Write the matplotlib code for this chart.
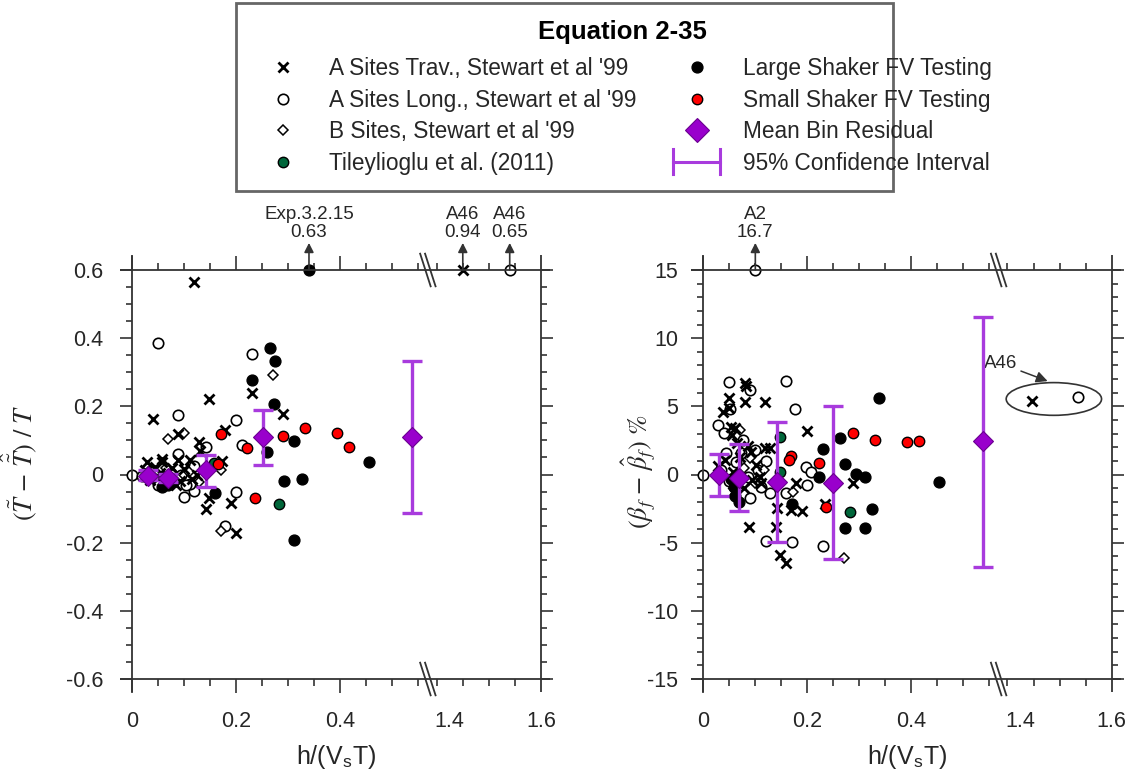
import numpy as np
import matplotlib
matplotlib.use("Agg")
import matplotlib.pyplot as plt
from matplotlib.lines import Line2D
from matplotlib.patches import Ellipse, Rectangle
from matplotlib.legend_handler import HandlerBase
from matplotlib.ticker import FixedLocator, FixedFormatter

plt.rcParams['font.family'] = ['Liberation Sans', 'DejaVu Sans']
plt.rcParams['mathtext.fontset'] = 'stix'

# ---------------- data: left panel, period residual (T~ - T^~)/T ----------------
L_trav_x = [0.119, 0.149, 0.231, 0.291, 0.040, 0.179, 0.089, 0.130, 0.131, 0.029, 0.058, 0.059,
            0.089, 0.112, 0.173, 0.149, 0.190, 0.142, 0.200, 1.450,
            0.025, 0.045, 0.055, 0.068, 0.078, 0.092, 0.100, 0.115, 0.125, 0.035, 0.085]
L_trav_y = [0.564, 0.222, 0.239, 0.178, 0.164, 0.131, 0.120, 0.095, 0.070, 0.036, 0.046, 0.036,
            0.043, 0.043, 0.039, -0.069, -0.084, -0.101, -0.173, 0.94,
            0.012, 0.022, 0.005, -0.008, 0.018, -0.020, 0.015, -0.012, 0.000, -0.015, -0.032]
L_long_x = [0.000, 0.051, 0.231, 0.089, 0.200, 0.211, 0.142, 0.089, 0.200, 0.101, 0.119, 0.112,
            0.179, 1.540, 0.020, 0.040, 0.060, 0.075, 0.095, 0.105, 0.120, 0.050]
L_long_y = [0.000, 0.386, 0.353, 0.176, 0.161, 0.088, 0.082, 0.059, -0.052, -0.065, -0.047, -0.027,
            -0.150, 0.65, -0.005, 0.008, -0.020, 0.005, 0.000, -0.030, 0.025, -0.030]
L_B_x = [0.271, 0.070, 0.101, 0.171, 0.171, 0.065, 0.088, 0.110, 0.130, 0.045]
L_B_y = [0.293, 0.105, 0.123, 0.014, -0.165, 0.020, -0.012, 0.008, -0.022, -0.010]
L_tiley_x = [0.283, 0.158]
L_tiley_y = [-0.086, 0.035]
L_large_x = [0.340, 0.266, 0.275, 0.231, 0.273, 0.312, 0.259, 0.293, 0.326, 0.312, 0.455,
             0.058, 0.070, 0.160]
L_large_y = [0.63, 0.370, 0.332, 0.278, 0.206, 0.098, 0.066, -0.018, -0.013, -0.191, 0.038,
             -0.037, -0.030, -0.055]
L_small_x = [0.171, 0.291, 0.332, 0.393, 0.222, 0.166, 0.236, 0.417]
L_small_y = [0.120, 0.112, 0.136, 0.123, 0.077, 0.031, -0.069, 0.080]
L_off_scale = [(0.340, 0.63, 'Exp.3.2.15'), (1.450, 0.94, 'A46'), (1.540, 0.65, 'A46')]

# ---------------- data: right panel, damping residual (%) ----------------
R_trav_x = [0.081, 0.084, 0.051, 0.081, 0.119, 0.039, 0.051, 0.055, 0.062, 0.057, 0.200, 0.087,
            0.093, 0.119, 0.129, 0.288, 0.180, 0.111, 0.234, 0.143, 0.170, 0.191, 0.089, 0.141,
            0.148, 0.160, 1.447,
            0.030, 0.042, 0.058, 0.066, 0.072, 0.095, 0.102, 0.058, 0.080, 0.110, 0.065]
R_trav_y = [6.74, 6.50, 5.59, 5.34, 5.30, 4.60, 4.86, 3.50, 3.39, 2.90, 3.19, 2.09,
            1.67, 1.92, 1.92, -0.60, -0.65, -0.65, -2.20, -2.48, -2.60, -2.66, -3.87, -3.87,
            -5.90, -6.47, 5.39,
            0.6, 1.1, 0.2, -0.6, 1.3, -0.4, 0.7, -1.3, -1.0, -0.2, 2.3]
R_long_x = [0.000, 0.051, 0.090, 0.160, 0.052, 0.178, 0.030, 0.040, 0.100, 0.073, 0.121, 0.199,
            0.208, 0.200, 0.160, 0.130, 0.090, 0.121, 0.172, 0.230, 1.536, 0.101,
            0.036, 0.050, 0.064, 0.086, 0.106, 0.112, 0.045, 0.078]
R_long_y = [0.00, 6.79, 6.20, 6.86, 4.80, 4.78, 3.63, 3.07, 1.80, 1.55, 1.01, 0.53,
            0.21, -0.77, -1.38, -1.33, -1.75, -4.86, -4.93, -5.25, 5.66, 16.7,
            0.3, -0.5, 0.9, -0.2, 0.3, -0.9, 1.6, 2.5]
R_B_x = [0.071, 0.173, 0.272, 0.080, 0.100, 0.118, 0.090]
R_B_y = [3.26, -1.26, -6.15, 0.5, -0.6, 0.3, 1.2]
R_tiley_x = [0.149, 0.283, 0.148]
R_tiley_y = [2.73, -2.73, 0.20]
R_large_x = [0.339, 0.264, 0.230, 0.274, 0.294, 0.311, 0.223, 0.172, 0.325, 0.274, 0.311, 0.453,
             0.060, 0.062, 0.070, 0.055]
R_large_y = [5.59, 2.65, 1.87, 0.77, 0.04, -0.20, -0.20, -2.16, -2.56, -3.95, -3.95, -0.57,
             -0.9, -1.6, -2.0, -0.3]
R_small_x = [0.289, 0.331, 0.170, 0.165, 0.223, 0.236, 0.393, 0.415]
R_small_y = [3.02, 2.53, 1.36, 1.06, 0.82, -2.36, 2.36, 2.46]
R_off_scale = [(0.101, 16.7, 'A2')]

# ---------------- mean bin residuals and 95% CI ----------------
bin_x = [0.032, 0.070, 0.142, 0.251, 0.538]
L_bin_mean = [-0.003, -0.010, 0.012, 0.110, 0.110]
L_bin_lo = [-0.016, -0.023, -0.037, 0.029, -0.114]
L_bin_hi = [0.012, 0.002, 0.056, 0.188, 0.333]
R_bin_mean = [-0.04, -0.28, -0.57, -0.65, 2.46]
R_bin_lo = [-1.55, -2.65, -4.93, -6.22, -6.79]
R_bin_hi = [1.50, 2.21, 3.83, 5.03, 11.56]

x_major = [0, 0.2, 0.4]
x_major_labels = ['0', '0.2', '0.4']
x_right_labels = [(1.425, '1.4'), (1.6, '1.6')]
x_minor = [0.05, 0.1, 0.15, 0.25, 0.3, 0.35, 0.45, 0.5, 0.55, 1.4, 1.45, 1.5, 1.55]

labels = ["A Sites Trav., Stewart et al '99", "A Sites Long., Stewart et al '99",
          "B Sites, Stewart et al '99", "Tileylioglu et al. (2011)",
          "Large Shaker FV Testing", "Small Shaker FV Testing",
          "Mean Bin Residual", "95% Confidence Interval"]

# ---------------- styles ----------------
AXC = '#333333'
TXT = '#262626'
PURPLE = '#9900CC'
CI_C = '#A83BDD'
GREEN = '#00663A'

sty = {
    'trav': dict(marker='x', color='black', ms=7, mew=2.0, ls='none'),
    'long': dict(marker='o', mfc='white', mec='black', ms=7.5, mew=1.2, ls='none'),
    'B': dict(marker='D', mfc='white', mec='black', ms=4.6, mew=1.1, ls='none'),
    'tiley': dict(marker='o', mfc=GREEN, mec='black', ms=7.5, mew=1.0, ls='none'),
    'large': dict(marker='o', mfc='black', mec='black', ms=7.8, mew=1.0, ls='none'),
    'small': dict(marker='o', mfc='#FF0000', mec='black', ms=7.5, mew=1.0, ls='none'),
    'mean': dict(marker='D', mfc=PURPLE, mec='#6A0090', ms=10, mew=0.8, ls='none'),
}

BRK = 0.568
SHIFT = 0.815


def fwd(x):
    x = np.asarray(x, dtype=float)
    return np.where(x <= BRK, x, np.where(x < BRK + SHIFT, BRK, x - SHIFT))


def inv(u):
    u = np.asarray(u, dtype=float)
    return np.where(u <= BRK, u, u + SHIFT)


fig = plt.figure(figsize=(11.36, 7.72), dpi=100)
W, H = 1136.0, 772.0


def panel(ax, series, ylim, ymajor, yminor, yfmt, mean, lo, hi, offscale, ylabel, ylabel_x,
          ylabel_y, ypad):
    ax.set_xscale('function', functions=(fwd, inv))
    top = ylim[1]
    order = ['long', 'B', 'trav', 'large', 'tiley', 'small']
    for key in order:
        xs, ys = series[key]
        ax.plot(xs, np.minimum(ys, top), clip_on=False, zorder=3, **sty[key])
    yerr = [np.array(mean) - np.array(lo), np.array(hi) - np.array(mean)]
    ax.errorbar(bin_x, mean, yerr=yerr, fmt='none', ecolor=CI_C, elinewidth=2.4,
                capsize=7.5, capthick=2.4, zorder=4)
    ax.plot(bin_x, mean, zorder=5, **sty['mean'])

    for (x, v, name) in offscale:
        ax.annotate('', xy=(x, top), xytext=(0, 19.5), textcoords='offset points',
                    arrowprops=dict(arrowstyle='<|-,head_length=0.55,head_width=0.28',
                                    color=AXC, lw=1.2, shrinkA=0, shrinkB=0),
                    annotation_clip=False)
        ax.annotate('%s\n%g' % (name, v), xy=(x, top), xytext=(0, 21), textcoords='offset points',
                    ha='center', va='bottom', fontsize=13.5, color=TXT, linespacing=1.05,
                    annotation_clip=False)

    ax.set_xlim(0, 1.6)
    ax.set_ylim(*ylim)

    ax.xaxis.set_major_locator(FixedLocator(x_major + [p for p, _ in x_right_labels]))
    ax.xaxis.set_major_formatter(FixedFormatter(x_major_labels + [s for _, s in x_right_labels]))
    ax.xaxis.set_minor_locator(FixedLocator(x_minor))
    ax.yaxis.set_major_locator(FixedLocator(ymajor))
    ax.yaxis.set_major_formatter(FixedFormatter([yfmt(v) for v in ymajor]))
    ax.yaxis.set_minor_locator(FixedLocator(yminor))

    ax.tick_params(axis='both', which='both', direction='out', top=True, right=True,
                   color=AXC, width=1.2, labelcolor=TXT, labelsize=15.5)
    ax.tick_params(axis='x', which='major', length=10, pad=13)
    ax.tick_params(axis='x', which='minor', length=5)
    ax.tick_params(axis='y', which='major', length=8.5, pad=ypad)
    ax.tick_params(axis='y', which='minor', length=4.5)
    for t in ax.xaxis.get_major_ticks()[len(x_major):]:
        t.tick1line.set_visible(False)
        t.tick2line.set_visible(False)

    for s in ax.spines.values():
        s.set_visible(False)
    kw = dict(transform=ax.transAxes, color=AXC, lw=1.3, clip_on=False,
              solid_capstyle='butt', zorder=6)
    ax.plot([-0.029, 1.022], [0, 0], **kw)
    ax.plot([-0.029, 1.022], [1, 1], **kw)
    ax.plot([0, 0], [-0.033, 1.037], **kw)
    ax.plot([1, 1], [-0.033, 1.037], **kw)
    xb = BRK / float(fwd(1.6))
    for yb in (0, 1):
        for dx in (-0.006, 0.006):
            ax.plot([xb + dx - 0.0135, xb + dx + 0.0135], [yb + 0.042, yb - 0.042], **kw)

    ax.set_xlabel(r'h/(V$_\mathregular{s}$T)', fontsize=18, color=TXT, labelpad=8)
    ax.set_ylabel(ylabel, fontsize=19, color=TXT, family='STIXGeneral')
    ax.yaxis.set_label_coords(ylabel_x, ylabel_y)
    ax.set_facecolor('white')


axL = fig.add_axes([131.7 / W, 1 - 679 / H, (541 - 131.7) / W, (679 - 270) / H])
axR = fig.add_axes([702.7 / W, 1 - 679 / H, (1111.7 - 702.7) / W, (679 - 270) / H])

seriesL = {'trav': (L_trav_x, L_trav_y), 'long': (L_long_x, L_long_y), 'B': (L_B_x, L_B_y),
           'tiley': (L_tiley_x, L_tiley_y), 'large': (L_large_x, L_large_y),
           'small': (L_small_x, L_small_y)}
seriesR = {'trav': (R_trav_x, R_trav_y), 'long': (R_long_x, R_long_y), 'B': (R_B_x, R_B_y),
           'tiley': (R_tiley_x, R_tiley_y), 'large': (R_large_x, R_large_y),
           'small': (R_small_x, R_small_y)}

panel(axL, seriesL, (-0.6, 0.6), [-0.6, -0.4, -0.2, 0, 0.2, 0.4, 0.6],
      [v / 100 for v in range(-60, 61, 5)], lambda v: '0' if v == 0 else '%.1f' % v,
      L_bin_mean, L_bin_lo, L_bin_hi, L_off_scale,
      r'$(\tilde{T}\ \mathrm{-}\ \hat{\tilde{T}})\ /\ T$', -0.226, 0.528, 12)
panel(axR, seriesR, (-15, 15), [-15, -10, -5, 0, 5, 10, 15],
      list(range(-15, 16)), lambda v: '%d' % v,
      R_bin_mean, R_bin_lo, R_bin_hi, R_off_scale,
      r'$(\beta_f\ \mathrm{-}\ \hat{\beta}_f)$ %', -0.11, 0.506, 9)

# A46 ellipse callout on the right panel
axR.add_patch(Ellipse((1.489, 5.54), width=0.183, height=2.4, fill=False, ec=AXC, lw=1.2,
                      zorder=6, clip_on=False))
axR.annotate('A46', xy=(1.477, 6.85), xytext=(1.418, 8.16), ha='right', va='center',
             fontsize=13.5, color=TXT,
             arrowprops=dict(arrowstyle='-|>,head_length=0.5,head_width=0.25', color=AXC,
                             lw=1.1, shrinkA=1, shrinkB=0))


# ---------------- legend ----------------
class CIHandler(HandlerBase):
    def create_artists(self, legend, orig_handle, xdescent, ydescent, width, height, fontsize, trans):
        y = (height - ydescent) / 2.0
        x0, x1 = -xdescent, width - xdescent
        half = 0.55 * fontsize
        c = orig_handle.get_color()
        lw = orig_handle.get_linewidth()
        arts = [Line2D([x0, x1], [y, y], color=c, lw=lw, transform=trans),
                Line2D([x0, x0], [y - half, y + half], color=c, lw=lw, transform=trans),
                Line2D([x1, x1], [y - half, y + half], color=c, lw=lw, transform=trans)]
        return arts


ci_handle = Line2D([], [], color=CI_C, lw=2.2)
handles = [Line2D([], [], **sty['trav']), Line2D([], [], **sty['long']),
           Line2D([], [], **sty['B']), Line2D([], [], **sty['tiley']),
           Line2D([], [], **sty['large']), Line2D([], [], **sty['small']),
           Line2D([], [], **dict(sty['mean'], ms=12)), ci_handle]

leg = fig.legend(handles, labels, ncol=2, loc='upper left',
                 bbox_to_anchor=(259 / W, 1 - 57 / H), frameon=False, fontsize=16.3,
                 handlelength=2.1, handletextpad=1.0, columnspacing=1.6, labelspacing=0.38,
                 borderpad=0, borderaxespad=0, handler_map={ci_handle: CIHandler()})
for t in leg.get_texts():
    t.set_color(TXT)

fig.add_artist(Rectangle((236 / W, 1 - 191 / H), (893 - 236) / W, 188 / H,
                         transform=fig.transFigure, fill=False, ec='#666666', lw=2))
fig.text(622 / W, 1 - 32 / H, 'Equation 2-35', ha='center', va='center',
         fontsize=18.5, fontweight='bold', color='black')

fig.savefig('out.png', dpi=100, facecolor='white')
